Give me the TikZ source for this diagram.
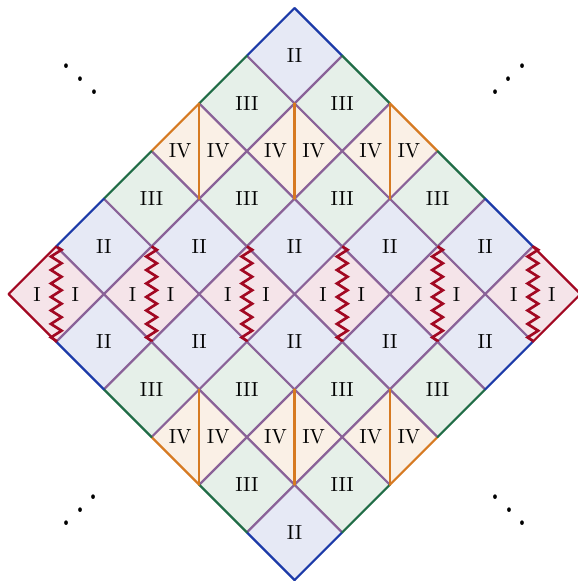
\documentclass[tikz,border=0pt]{standalone}
\usepackage{xcolor}
\usepackage{tikz}
\usetikzlibrary{decorations.pathmorphing}
\definecolor{wallblue}{RGB}{28,58,168}
\definecolor{wallgreen}{RGB}{32,108,70}
\definecolor{wallorange}{RGB}{214,122,34}
\definecolor{wallred}{RGB}{162,8,34}
\definecolor{gridpurple}{RGB}{138,98,152}
\definecolor{fillII}{RGB}{230,233,245}
\definecolor{fillIII}{RGB}{230,240,233}
\definecolor{fillIV}{RGB}{250,240,230}
\definecolor{fillI}{RGB}{245,228,233}
\begin{document}
\begin{tikzpicture}[x=0.82cm,y=0.82cm,
  grid/.style={line width=1.1pt, gridpurple},
  wall/.style={line width=1.1pt, line cap=round},
  sing/.style={line width=1.3pt, wallred, decorate,
    decoration={zigzag, amplitude=2.6pt, segment length=6.6pt}},
  etc/.style={xscale=1.75, yscale=2.15, inner sep=0pt}]
\useasboundingbox (-6.18,-6.02) rectangle (5.93,6.17);
% regions
\foreach \x/\y in {0/5,0/-5,-4/1,-2/1,0/1,2/1,4/1,-4/-1,-2/-1,0/-1,2/-1,4/-1}
  \fill[fillII] (\x-1,\y) -- (\x,\y+1) -- (\x+1,\y) -- (\x,\y-1) -- cycle;
\foreach \x/\y in {-1/4,1/4,-1/-4,1/-4,-3/2,-1/2,1/2,3/2,-3/-2,-1/-2,1/-2,3/-2}
  \fill[fillIII] (\x-1,\y) -- (\x,\y+1) -- (\x+1,\y) -- (\x,\y-1) -- cycle;
\foreach \x/\y in {-2/3,0/3,2/3,-2/-3,0/-3,2/-3}
  \fill[fillIV] (\x-1,\y) -- (\x,\y+1) -- (\x+1,\y) -- (\x,\y-1) -- cycle;
\foreach \x in {-5,-3,-1,1,3,5}
  \fill[fillI] (\x-1,0) -- (\x,1) -- (\x+1,0) -- (\x,-1) -- cycle;
% grid lines
\foreach \c in {-4,-2,0,2,4} {
  \draw[grid] ({(\c-6)/2},{(\c+6)/2}) -- ({(\c+6)/2},{(\c-6)/2});
  \draw[grid] ({(\c-6)/2},{(-6-\c)/2}) -- ({(\c+6)/2},{(6-\c)/2});
}
% splits
\foreach \x in {-2,0,2} {
  \draw[wall, wallorange] (\x,4) -- (\x,2);
  \draw[wall, wallorange] (\x,-4) -- (\x,-2);
}
\foreach \x in {-5,-3,-1,1,3,5}
  \draw[sing] (\x,1) -- (\x,-1);
% boundary
\foreach \sx/\sy in {1/1,-1/1,1/-1,-1/-1}
  \foreach \i/\c in {0/wallblue,1/wallgreen,2/wallorange,3/wallgreen,4/wallblue,5/wallred}
    \draw[wall, \c] ({\sx*\i},{\sy*(6-\i)}) -- ({\sx*(\i+1)},{\sy*(5-\i)});
% labels
\foreach \x/\y in {0/5,0/-5,-4/1,-2/1,0/1,2/1,4/1,-4/-1,-2/-1,0/-1,2/-1,4/-1}
  \node (II\x\y) at (\x,\y) {II};
\foreach \x/\y in {-1/4,1/4,-1/-4,1/-4,-3/2,-1/2,1/2,3/2,-3/-2,-1/-2,1/-2,3/-2}
  \node (III\x\y) at (\x,\y) {III};
\foreach \x/\y in {-2/3,0/3,2/3,-2/-3,0/-3,2/-3} {
  \node (IVl\x\y) at (\x-0.4,\y) {IV};
  \node (IVr\x\y) at (\x+0.4,\y) {IV};
}
\foreach \x in {-5,-3,-1,1,3,5} {
  \node (Il\x) at (\x-0.4,0) {I};
  \node (Ir\x) at (\x+0.4,0) {I};
}
% dots
\node[etc] (dotsNW) at (-4.5,4.78) {$\ddots$};
\node[etc] (dotsSE) at (4.5,-4.26) {$\ddots$};
\node[etc] (dotsNE) at (4.5,4.78) {\reflectbox{$\ddots$}};
\node[etc] (dotsSW) at (-4.5,-4.26) {\reflectbox{$\ddots$}};
\end{tikzpicture}
\end{document}
